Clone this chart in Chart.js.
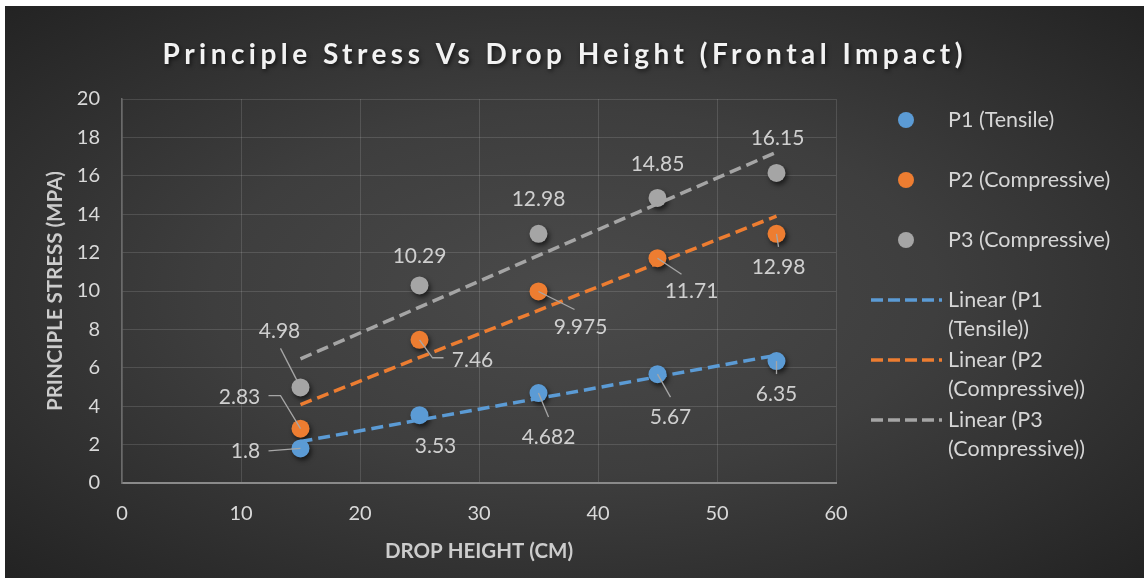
<!DOCTYPE html>
<html><head><meta charset="utf-8">
<script src="https://cdn.jsdelivr.net/npm/chart.js@4.4.1/dist/chart.umd.min.js"></script>
<style>
html,body{margin:0;padding:0;background:#fff;width:1144px;height:578px;overflow:hidden;}
#wrap{position:absolute;left:5px;top:6px;width:1139px;height:572px;
 background:radial-gradient(ellipse at 50% 50%, #4a4a4a 0%, #3e3e3e 45%, #232323 100%);}
canvas{display:block;}
</style></head><body>
<div id="wrap"><canvas id="c" width="1139" height="572"></canvas></div>
<script>
// ---- data ----
const dropHeights = [15, 25, 35, 45, 55];
const p1Tensile = [1.8, 3.53, 4.682, 5.67, 6.35];
const p2Compressive = [2.83, 7.46, 9.975, 11.71, 12.98];
const p3Compressive = [4.98, 10.29, 12.98, 14.85, 16.15];
const seriesNames = ['P1 (Tensile)', 'P2 (Compressive)', 'P3 (Compressive)'];
const chartTitle = 'Principle Stress Vs Drop Height (Frontal Impact)';
const xAxisTitle = 'DROP HEIGHT (CM)';
const yAxisTitle = 'PRINCIPLE STRESS (MPA)';
const xTickRange = [0, 60, 10];
const yTickRange = [0, 20, 2];

// ---- styles / layout (kept apart from data) ----
const seriesColors = ['#5b9bd5', '#ed7d31', '#a5a5a5'];
const labelOffsets = [
  [{dx:-55,dy:3,lead:[[-32,2.5]]},{dx:16,dy:31},{dx:10,dy:44,lead:[[10,24]]},{dx:13,dy:43,lead:[[13,23]]},{dx:0,dy:33,lead:[[0,13]]}],
  [{dx:-61,dy:-31,lead:[[-20,-33],[-32,-33]]},{dx:53,dy:20,lead:[[13,18],[24,18]]},{dx:42,dy:36,lead:[[36,18]]},{dx:34,dy:33,lead:[[24,16]]},{dx:2,dy:33,lead:[[2,13]]}],
  [{dx:-21,dy:-56,lead:[[-20,-39]]},{dx:0,dy:-29},{dx:0,dy:-35},{dx:0,dy:-34},{dx:1,dy:-35}]
];
const FONT = 'Lato, "Open Sans", sans-serif';

const seriesValues = [p1Tensile, p2Compressive, p3Compressive];

function linearFit(xs, ys) {
  const n = xs.length;
  const mx = xs.reduce((a,b)=>a+b,0)/n, my = ys.reduce((a,b)=>a+b,0)/n;
  let sxy = 0, sxx = 0;
  for (let i=0;i<n;i++){ sxy += (xs[i]-mx)*(ys[i]-my); sxx += (xs[i]-mx)*(xs[i]-mx); }
  const b = sxy/sxx, a = my - b*mx;
  const x0 = Math.min(...xs), x1 = Math.max(...xs);
  return [{x:x0,y:a+b*x0},{x:x1,y:a+b*x1}];
}

const datasets = [];
seriesValues.forEach((vals, i) => {
  datasets.push({
    label: seriesNames[i],
    data: dropHeights.map((x, j) => ({x, y: vals[j]})),
    backgroundColor: seriesColors[i], borderColor: seriesColors[i],
    pointRadius: 9, pointBorderWidth: 0, pointHoverRadius: 9,
    showLine: false, order: 2
  });
});
seriesValues.forEach((vals, i) => {
  datasets.push({
    label: 'Linear (' + seriesNames[i] + ')',
    isTrend: true,
    data: linearFit(dropHeights, vals),
    borderColor: seriesColors[i], backgroundColor: seriesColors[i],
    borderWidth: 3.5, borderDash: [12, 6], borderCapStyle: 'butt',
    pointRadius: 0, showLine: true, fill: false, order: 1
  });
});

const shadowPlugin = {
  id: 'markerShadow',
  beforeDatasetDraw(chart, args) {
    if (chart.data.datasets[args.index].isTrend) return;
    const ctx = chart.ctx; ctx.save();
    ctx.shadowColor = 'rgba(0,0,0,0.6)'; ctx.shadowBlur = 5;
    ctx.shadowOffsetX = 2; ctx.shadowOffsetY = 3;
  },
  afterDatasetDraw(chart, args) {
    if (chart.data.datasets[args.index].isTrend) return;
    chart.ctx.restore();
  }
};

const labelsPlugin = {
  id: 'dataLabels',
  afterDatasetsDraw(chart) {
    const ctx = chart.ctx;
    ctx.save();
    seriesValues.forEach((vals, si) => {
      const meta = chart.getDatasetMeta(si);
      meta.data.forEach((pt, i) => {
        const o = labelOffsets[si][i];
        const x = pt.x, y = pt.y;
        if (o.lead) {
          ctx.beginPath(); ctx.moveTo(x, y);
          o.lead.forEach(p => ctx.lineTo(x + p[0], y + p[1]));
          ctx.strokeStyle = '#a6a6a6'; ctx.lineWidth = 1.3; ctx.stroke();
        }
        ctx.font = '21px ' + FONT; ctx.fillStyle = '#cfcfcf';
        ctx.textAlign = 'center'; ctx.textBaseline = 'middle';
        ctx.fillText(String(vals[i]), x + o.dx, y + o.dy);
      });
    });
    ctx.restore();
  }
};

const decorPlugin = {
  id: 'decor',
  afterDraw(chart) {
    const ctx = chart.ctx;
    // title
    ctx.save();
    ctx.font = 'bold 28px ' + FONT;
    ctx.textAlign = 'center'; ctx.textBaseline = 'middle';
    const target = 800;
    ctx.letterSpacing = '0px';
    const w = ctx.measureText(chartTitle).width;
    const ls = Math.max(0, (target - w) / (chartTitle.length - 1));
    ctx.letterSpacing = ls.toFixed(2) + 'px';
    ctx.shadowColor = 'rgba(0,0,0,0.6)'; ctx.shadowBlur = 4; ctx.shadowOffsetX = 1.5; ctx.shadowOffsetY = 2;
    ctx.fillStyle = '#f2f2f2';
    ctx.fillText(chartTitle, 557.5 + ls/2, 49);
    ctx.restore();

    // legend
    ctx.save();
    ctx.font = '21.5px ' + FONT; ctx.textAlign = 'left'; ctx.textBaseline = 'middle';
    const lx = 901, tx = 943, maxW = 175;
    let y = 114;
    chart.data.datasets.forEach(ds => {
      const words = ds.label.split(' ');
      const lines = []; let cur = '';
      words.forEach(wd => {
        const t = cur ? cur + ' ' + wd : wd;
        if (cur && ctx.measureText(t).width > maxW) { lines.push(cur); cur = wd; } else cur = t;
      });
      if (cur) lines.push(cur);
      if (ds.isTrend) {
        ctx.save();
        ctx.strokeStyle = ds.borderColor; ctx.lineWidth = 3.5; ctx.setLineDash([12, 5]);
        ctx.beginPath(); ctx.moveTo(866, y); ctx.lineTo(937, y); ctx.stroke();
        ctx.restore();
      } else {
        ctx.beginPath(); ctx.arc(lx, y, 8, 0, Math.PI*2);
        ctx.fillStyle = ds.backgroundColor; ctx.fill();
      }
      ctx.fillStyle = '#d6d6d6';
      lines.forEach((ln, k) => ctx.fillText(ln, tx, y + k*29));
      y += 60;
    });
    ctx.restore();
  }
};

function build() {
  new Chart(document.getElementById('c'), {
    type: 'scatter',
    data: { datasets },
    plugins: [shadowPlugin, labelsPlugin, decorPlugin],
    options: {
      responsive: false, animation: false, devicePixelRatio: 1,
      layout: { padding: { left: 0, right: 308, top: 93, bottom: 0 } },
      plugins: { legend: { display: false }, tooltip: { enabled: false }, title: { display: false } },
      scales: {
        x: {
          type: 'linear', min: xTickRange[0], max: xTickRange[1],
          ticks: { stepSize: xTickRange[2], color: '#d9d9d9', font: { family: FONT, size: 20 }, padding: 19 },
          grid: { color: 'rgba(255,255,255,0.13)', lineWidth: 1, drawTicks: false },
          border: { color: '#8a8a8a', width: 2 },
          title: { display: true, text: xAxisTitle, color: '#cccccc', font: { family: FONT, size: 20.5, weight: 'bold' }, padding: { top: 0, bottom: 14.2 } },
          afterFit(s) { s.height = 95; }
        },
        y: {
          type: 'linear', min: yTickRange[0], max: yTickRange[1],
          ticks: { stepSize: yTickRange[2], color: '#d9d9d9', font: { family: FONT, size: 20 }, padding: 22 },
          grid: { color: 'rgba(255,255,255,0.13)', lineWidth: 1, drawTicks: false },
          border: { color: '#6a6a6a', width: 1.5 },
          title: { display: true, text: yAxisTitle, color: '#cccccc', font: { family: FONT, size: 20.5, weight: 'bold' }, padding: { top: 37.7, bottom: 0 } },
          afterFit(s) { s.width = 117; }
        }
      }
    }
  });
}
Promise.all([document.fonts.load('20px Lato'), document.fonts.load('bold 28px Lato')]).then(build, build);
</script>
</body></html>
